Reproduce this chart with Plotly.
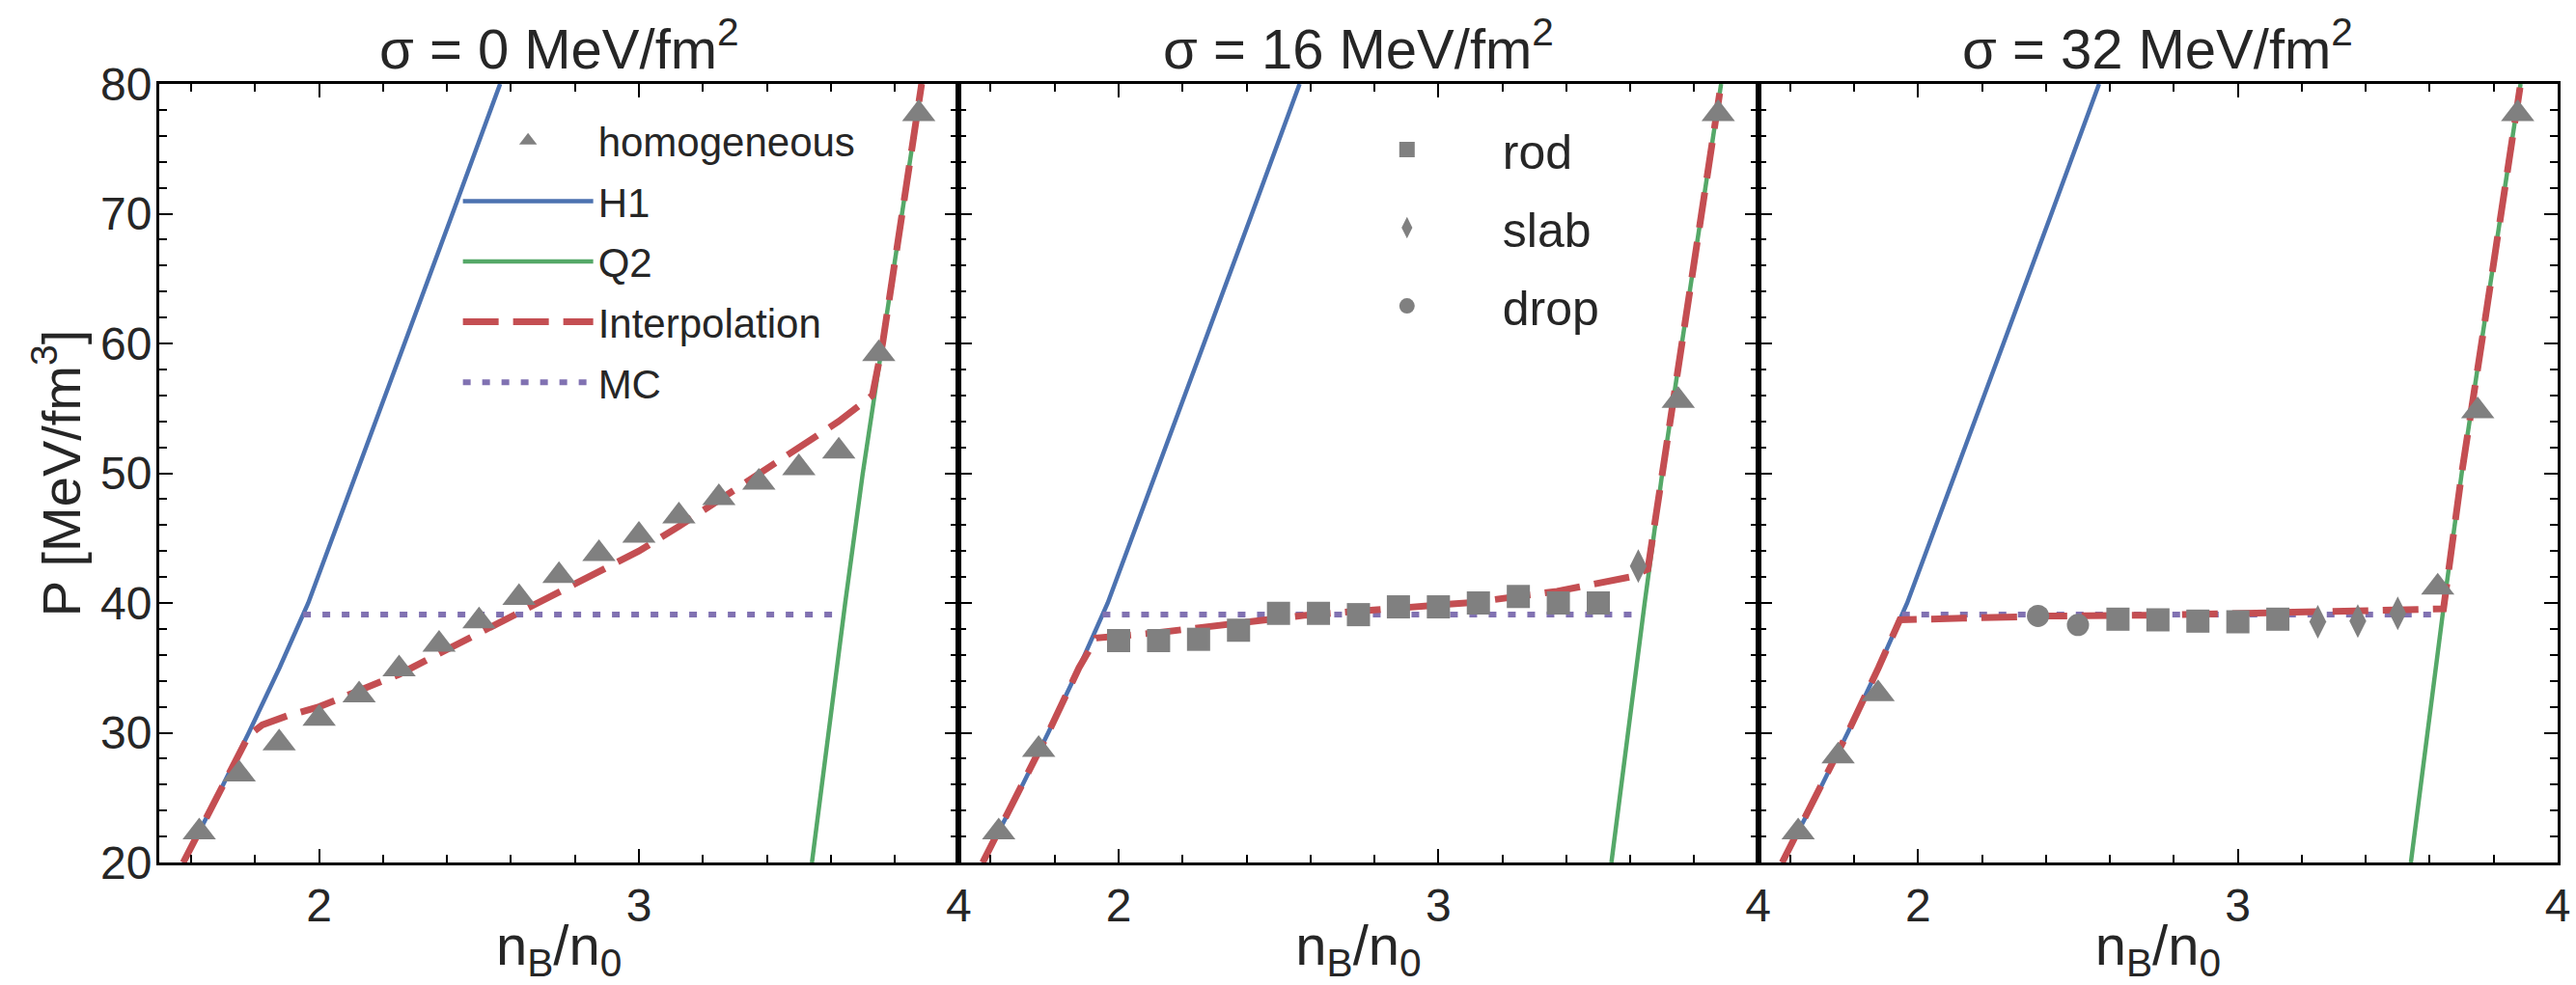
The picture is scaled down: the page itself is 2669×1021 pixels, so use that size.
import plotly.graph_objects as go
from plotly.subplots import make_subplots

# ---------------- data ----------------
titles = ["σ = 0 MeV/fm<sup>2</sup>", "σ = 16 MeV/fm<sup>2</sup>", "σ = 32 MeV/fm<sup>2</sup>"]

# hadronic EOS (H1) and quark EOS (Q2) -- shared by all panels
h1_n = [1.575, 1.680, 1.780, 1.876, 1.966, 2.118, 2.267, 2.417, 2.566]
h1_p = [20, 25, 30, 35, 40, 50, 60, 70, 80]
q2_n = [3.541, 3.592, 3.645, 3.700, 3.762, 3.823, 3.884]
q2_p = [20, 30, 40, 50, 60, 70, 80]

# Maxwell construction
mc_n = [1.950, 3.640]
mc_p = [39.1, 39.1]

# interpolation curves
interp0_n = [1.575, 1.680, 1.780, 1.822, 1.90, 2.0, 2.125, 2.25, 2.375, 2.5, 2.625, 2.75,
             2.875, 3.0, 3.125, 3.25, 3.375, 3.5, 3.625, 3.73, 3.762, 3.823, 3.884]
interp0_p = [20, 25, 29.8, 30.6, 31.3, 32.0, 33.2, 34.5, 36.1, 37.7, 39.2, 40.8,
             42.4, 44.0, 45.9, 47.9, 49.9, 52.0, 54.0, 56.0, 60, 70, 80]
interp16_n = [1.575, 1.680, 1.780, 1.876, 1.930, 2.117, 2.343, 2.587, 2.848, 3.11, 3.371,
              3.598, 3.655, 3.700, 3.762, 3.823, 3.884]
interp16_p = [20, 25, 30, 35, 37.3, 37.7, 38.3, 39.06, 39.55, 40.05, 40.9,
              42.0, 42.6, 50, 60, 70, 80]
interp32_n = [1.575, 1.680, 1.780, 1.876, 1.943, 2.115, 2.407, 2.75, 3.094, 3.438, 3.643,
              3.700, 3.762, 3.823, 3.884]
interp32_p = [20, 25, 30, 35, 38.7, 38.81, 38.99, 39.06, 39.18, 39.43, 39.55,
              50, 60, 70, 80]

# pasta / homogeneous points
hom0_n = [1.625, 1.75, 1.875, 2.0, 2.125, 2.25, 2.375, 2.5, 2.625, 2.75, 2.875, 3.0,
          3.125, 3.25, 3.375, 3.5, 3.625, 3.75, 3.875]
hom0_p = [22.35, 26.8, 29.2, 31.1, 32.9, 34.9, 36.8, 38.6, 40.4, 42.1, 43.8, 45.2,
          46.7, 48.1, 49.3, 50.4, 51.7, 59.2, 77.7]

hom16_n = [1.625, 1.75, 3.75, 3.875]
hom16_p = [22.35, 28.7, 55.6, 77.7]
rod16_n = [2.0, 2.125, 2.25, 2.375, 2.5, 2.625, 2.75, 2.875, 3.0, 3.125, 3.25, 3.375, 3.5]
rod16_p = [37.1, 37.1, 37.2, 37.9, 39.2, 39.2, 39.1, 39.7, 39.7, 40.0, 40.5, 40.0, 40.0]
slab16_n = [3.625]
slab16_p = [42.85]

hom32_n = [1.625, 1.75, 1.875, 3.625, 3.75, 3.875]
hom32_p = [22.35, 28.2, 33.0, 41.2, 54.8, 77.7]
drop32_n = [2.375, 2.5]
drop32_p = [39.0, 38.3]
rod32_n = [2.625, 2.75, 2.875, 3.0, 3.125]
rod32_p = [38.75, 38.7, 38.6, 38.55, 38.75]
slab32_n = [3.25, 3.375, 3.5]
slab32_p = [38.55, 38.6, 39.2]

x_ticks = [2, 3, 4]
y_ticks = [20, 30, 40, 50, 60, 70, 80]

# ---------------- styles ----------------
BLUE = "#4C72B0"
GREEN = "#55A868"
RED = "#C44E52"
PURPLE = "#8172B2"
GRAY = "#808080"
TXT = "#262626"
FONT = "Liberation Sans"

fig = make_subplots(rows=1, cols=3, shared_yaxes=True, horizontal_spacing=0)

interps = [(interp0_n, interp0_p), (interp16_n, interp16_p), (interp32_n, interp32_p)]
homs = [(hom0_n, hom0_p), (hom16_n, hom16_p), (hom32_n, hom32_p)]

for i in range(3):
    col = i + 1
    first = (i == 0)
    fig.add_trace(go.Scatter(x=h1_n, y=h1_p, mode="lines", name="H1",
                             line=dict(color=BLUE, width=4.5), showlegend=first,
                             legendgroup="H1", legendrank=2), row=1, col=col)
    fig.add_trace(go.Scatter(x=q2_n, y=q2_p, mode="lines", name="Q2",
                             line=dict(color=GREEN, width=4.5), showlegend=first,
                             legendgroup="Q2", legendrank=3), row=1, col=col)
    fig.add_trace(go.Scatter(x=mc_n, y=mc_p, mode="lines", name="MC",
                             line=dict(color=PURPLE, width=6, dash="8px,12px"),
                             showlegend=first, legendgroup="MC", legendrank=5), row=1, col=col)
    fig.add_trace(go.Scatter(x=interps[i][0], y=interps[i][1], mode="lines", name="Interpolation",
                             line=dict(color=RED, width=7, dash="37px,15px"),
                             showlegend=first, legendgroup="Interp", legendrank=4), row=1, col=col)
    fig.add_trace(go.Scatter(x=homs[i][0], y=homs[i][1], mode="markers", name="homogeneous",
                             marker=dict(symbol="triangle-up", size=30, color=GRAY),
                             showlegend=first, legendgroup="hom", legendrank=1), row=1, col=col)

# pasta phases, panel 2
fig.add_trace(go.Scatter(x=rod16_n, y=rod16_p, mode="markers", name="rod",
                         marker=dict(symbol="square", size=24, color=GRAY),
                         legend="legend2", legendgroup="rod", legendrank=1), row=1, col=2)
fig.add_trace(go.Scatter(x=slab16_n, y=slab16_p, mode="markers", name="slab",
                         marker=dict(symbol="diamond-tall", size=25, color=GRAY),
                         legend="legend2", legendgroup="slab", legendrank=2), row=1, col=2)
fig.add_trace(go.Scatter(x=[None], y=[None], mode="markers", name="drop",
                         marker=dict(symbol="circle", size=23, color=GRAY),
                         legend="legend2", legendgroup="drop", legendrank=3), row=1, col=2)
# pasta phases, panel 3
fig.add_trace(go.Scatter(x=drop32_n, y=drop32_p, mode="markers", name="drop",
                         marker=dict(symbol="circle", size=23, color=GRAY),
                         showlegend=False), row=1, col=3)
fig.add_trace(go.Scatter(x=rod32_n, y=rod32_p, mode="markers", name="rod",
                         marker=dict(symbol="square", size=24, color=GRAY),
                         showlegend=False), row=1, col=3)
fig.add_trace(go.Scatter(x=slab32_n, y=slab32_p, mode="markers", name="slab",
                         marker=dict(symbol="diamond-tall", size=25, color=GRAY),
                         showlegend=False), row=1, col=3)

axis_common = dict(showline=True, linewidth=3, linecolor="black", mirror="allticks",
                   ticks="inside", ticklen=14, tickwidth=2, tickcolor="black",
                   showgrid=False, zeroline=False, automargin=False,
                   tickfont=dict(size=48, color=TXT, family=FONT))

for i in range(3):
    fig.update_xaxes(range=[1.5, 4], tickvals=x_ticks,
                     minor=dict(dtick=0.2, tick0=0, ticks="inside", ticklen=8,
                                tickwidth=2, tickcolor="black"),
                     title=dict(text="n<sub>B</sub>/n<sub>0</sub>",
                                font=dict(size=58, color=TXT, family=FONT), standoff=3),
                     row=1, col=i + 1, **axis_common)
    fig.update_yaxes(range=[20, 80], tickvals=y_ticks,
                     minor=dict(dtick=2, tick0=0, ticks="inside", ticklen=8,
                                tickwidth=2, tickcolor="black"),
                     showticklabels=(i == 0), ticklabelstandoff=-5,
                     row=1, col=i + 1, **axis_common)

fig.update_yaxes(title=dict(text="P [MeV/fm<sup>3</sup>]",
                            font=dict(size=56, color=TXT, family=FONT), standoff=3),
                 row=1, col=1)

for i in range(3):
    xd = fig.layout[f"xaxis{'' if i == 0 else i + 1}"].domain
    fig.add_annotation(text=titles[i], xref="paper", yref="paper",
                       x=(xd[0] + xd[1]) / 2, y=1.0, xanchor="center", yanchor="bottom",
                       showarrow=False, yshift=2,
                       font=dict(size=58, color=TXT, family=FONT))

fig.update_layout(
    width=2669, height=1021,
    margin=dict(l=165, r=19, t=87, b=127),
    paper_bgcolor="white", plot_bgcolor="white",
    font=dict(family=FONT, color=TXT),
    legend=dict(x=0.1246, y=0.969, xanchor="left", yanchor="top",
                font=dict(size=42, color=TXT, family=FONT),
                bgcolor="rgba(0,0,0,0)", itemwidth=135, tracegroupgap=5,
                itemsizing="trace"),
    legend2=dict(x=0.4804, y=0.964, xanchor="left", yanchor="top",
                 font=dict(size=50, color=TXT, family=FONT),
                 bgcolor="rgba(0,0,0,0)", itemwidth=188, tracegroupgap=13,
                 itemsizing="trace"),
)

fig.write_html("out.html",
               config={"displayModeBar": False},
               post_script="document.body.style.margin='0px';document.body.style.overflow='hidden';")
